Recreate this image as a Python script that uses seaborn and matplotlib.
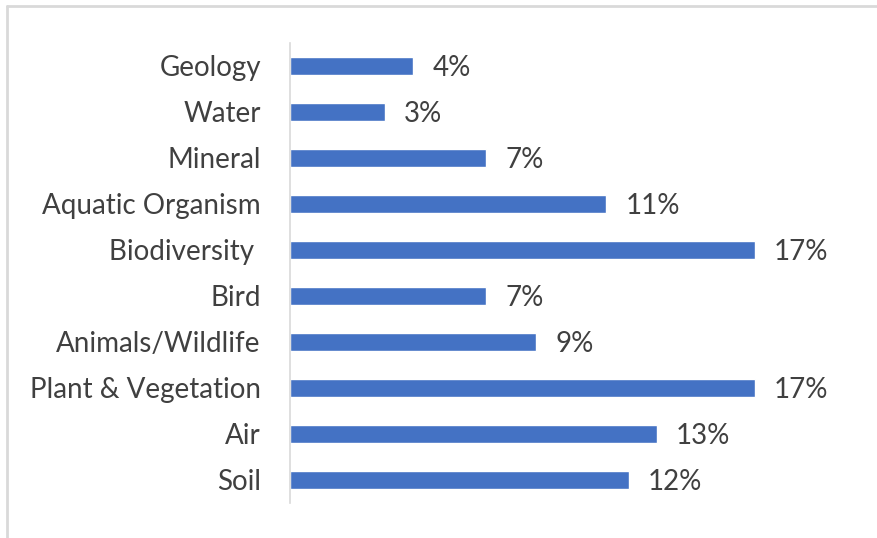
import matplotlib
matplotlib.use("Agg")
import matplotlib.pyplot as plt
import seaborn as sns
import pandas as pd
from matplotlib.lines import Line2D

categories = ["Geology", "Water", "Mineral", "Aquatic Organism", "Biodiversity ",
              "Bird", "Animals/Wildlife", "Plant & Vegetation", "Air", "Soil"]
shares = [4.4, 3.4, 7.0, 11.3, 16.6, 7.0, 8.8, 16.6, 13.1, 12.1]

df = pd.DataFrame({"category": categories, "share": shares})

sns.set_theme(style="white")
plt.rcParams["font.family"] = ["Lato", "DejaVu Sans"]

fig = plt.figure(figsize=(8.78, 5.38), dpi=100)
ax = fig.add_axes([290 / 878, 1 - 503 / 538, 550 / 878, 460 / 538])

sns.barplot(data=df, y="category", x="share", orient="h", color="#4472C4",
            saturation=1, width=0.37, ax=ax)

text_color = "#404040"
for i, v in enumerate(shares):
    ax.text(v + 0.68, i + 0.05, f"{v:.0f}%", va="center", ha="left",
            fontsize=20, color=text_color)

ax.set_xlim(0, 550 / 28.0)
ax.set_ylim(9.5, -0.5)
ax.set_xlabel("")
ax.set_ylabel("")
ax.set_xticks([])
ax.tick_params(axis="y", length=0, pad=21, labelsize=20, labelcolor=text_color)
for s in ["top", "right", "bottom"]:
    ax.spines[s].set_visible(False)
ax.spines["left"].set_color("#d9d9d9")
ax.spines["left"].set_linewidth(1.2)

# light frame around the chart area
frame = dict(color="#d9d9d9", linewidth=2, transform=fig.transFigure)
fig.add_artist(Line2D([7.5 / 878, 1.0], [1 - 6 / 538, 1 - 6 / 538], **frame))
fig.add_artist(Line2D([7.5 / 878, 7.5 / 878], [0, 1 - 6 / 538], **frame))

fig.savefig("out.png", dpi=100, facecolor="white")
